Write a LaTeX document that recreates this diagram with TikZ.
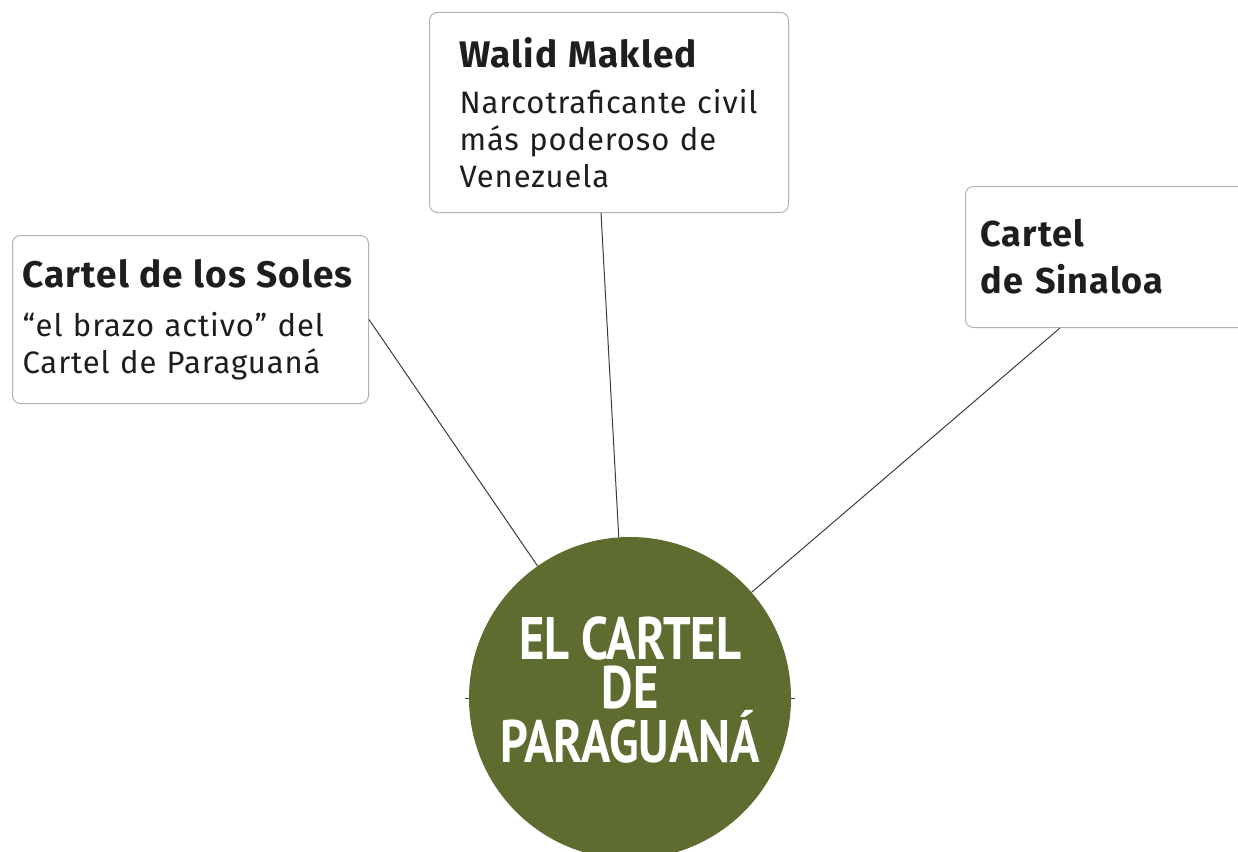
\documentclass[tikz,border=0pt]{standalone}
\usepackage{fontspec}
\setmainfont{Fira Sans}[LetterSpace=3]
\newfontfamily\hubfont{PT Sans}[FakeStretch=0.81]
\usetikzlibrary{backgrounds}
\definecolor{hubgreen}{RGB}{94,108,47}
\definecolor{cardgray}{RGB}{178,178,178}
\definecolor{linkgray}{RGB}{60,60,60}
\definecolor{inkgray}{RGB}{30,30,30}

\begin{document}
\begin{tikzpicture}[x=1pt,y=-1pt]
        \tikzset{hub/.style = {shape=circle,fill=hubgreen,minimum size=322pt,inner sep=0pt}}
        \tikzset{hubtext/.style = {text=white,inner sep=0pt,align=center,font=\hubfont\bfseries\fontsize{60}{49}\selectfont}}
        \tikzset{card/.style = {shape=rectangle,draw=cardgray,line width=1pt,rounded corners=8pt,fill=white,text=inkgray,anchor=north west,align=left,inner ysep=0pt,font=\fontsize{31}{37}\selectfont}}
        \tikzset{link/.style = {-,draw=linkgray,line width=1pt}}
        \newcommand\cardtitle[1]{\mbox{\bfseries\fontsize{37}{37}\selectfont #1}}
        \useasboundingbox (0,0) rectangle (1238,851);
        \clip (0,0) rectangle (1238,851);
        \node[hub] (cartel) at (630,698) {};
        \node[hubtext] (cartelname) at (630,690) {EL CARTEL\\DE\\PARAGUANÁ};
        \node[card,text width=299pt,inner xsep=30pt,minimum height=200pt] (walid) at (429,12)
          {\cardtitle{Walid Makled}\\[9pt]Narcotraficante civil\\más poderoso de\\Venezuela};
        \node[card,text width=336pt,inner xsep=10pt,minimum height=168pt] (soles) at (12,235)
          {\cardtitle{Cartel de los Soles}\\[12pt]“el brazo activo” del\\Cartel de Paraguaná};
        \node[card,text width=300pt,inner xsep=15pt,minimum height=141pt,font=\bfseries\fontsize{36}{47}\selectfont] (sinaloa) at (965,186)
          {Cartel\\de Sinaloa};
        \draw[link] (soles.east) to (cartel.125);
        \draw[link] ([xshift=-8pt]walid.south) to (cartel.94);
        \draw[link] ([xshift=95pt]sinaloa.south west) to (cartel.41);
        \begin{scope}[on background layer]
          \fill[white] (0,0) rectangle (1238,851);
          \draw[link] ([xshift=-4pt]cartel.west) to ([xshift=4pt]cartel.east);
        \end{scope}
      \end{tikzpicture}
\end{document}
